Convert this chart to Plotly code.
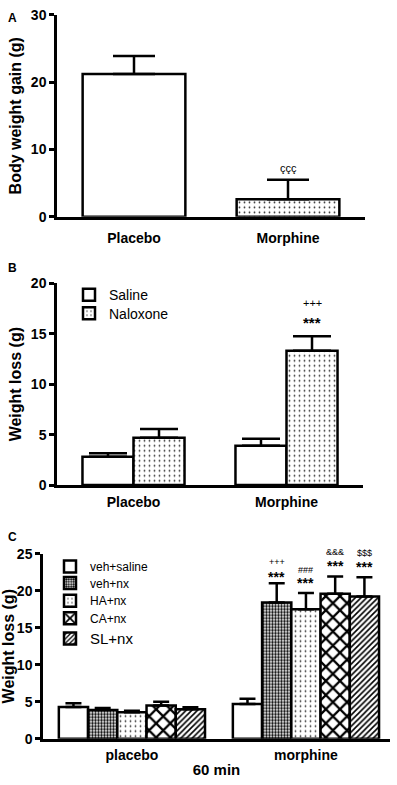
import plotly.graph_objects as go

# ---------------- data ----------------
cats_ab = ["Placebo", "Morphine"]
a_gain = [21.2, 2.6]
a_err = [2.7, 2.9]

b_saline = [2.8, 3.9]
b_saline_err = [0.35, 0.7]
b_nalox = [4.7, 13.3]
b_nalox_err = [0.85, 1.45]

cats_c = ["placebo", "morphine"]
c_groups = ["veh+saline", "veh+nx", "HA+nx", "CA+nx", "SL+nx"]
c_means = {
    "veh+saline": [4.3, 4.7],
    "veh+nx": [3.9, 18.4],
    "HA+nx": [3.6, 17.5],
    "CA+nx": [4.5, 19.6],
    "SL+nx": [4.0, 19.2],
}
c_errs = {
    "veh+saline": [0.5, 0.7],
    "veh+nx": [0.25, 2.6],
    "HA+nx": [0.2, 2.2],
    "CA+nx": [0.5, 2.3],
    "SL+nx": [0.25, 2.6],
}
c_marks_top = ["", "+++", "###", "&&&", "$$$"]

# ---------------- styles ----------------
BOLD = dict(family="Liberation Sans, Arial", color="black", weight="bold")
REG = dict(family="Liberation Sans, Arial", color="black")
LW = 2.5
H = 785.0
W = 397.0


def pat(shape, size, solidity, fg="black"):
    return dict(shape=shape, size=size, solidity=solidity, fgcolor=fg, fgopacity=1,
                bgcolor="white", fillmode="overlay")


pat_none = dict(shape="")
pat_dots = pat(".", 5, 0.1, "#333")
pat_dense = pat(".", 3, 0.5)
pat_cross = pat("x", 10, 0.4)
pat_diag = pat("/", 4, 0.4)
c_patterns = [pat_none, pat_dense, pat_dots, pat_cross, pat_diag]

fig = go.Figure()

# ---------------- Panel A ----------------
fig.add_trace(go.Bar(
    x=cats_ab, y=a_gain, xaxis="x", yaxis="y", showlegend=False,
    width=0.667,
    marker=dict(color="white", line=dict(color="black", width=LW),
                pattern=dict(shape=["", "."], size=5, solidity=0.1, fgcolor="#333", fgopacity=1,
                             bgcolor="white", fillmode="overlay")),
    error_y=dict(type="data", array=a_err, arrayminus=[0, 0], color="black", thickness=LW, width=21),
))

# ---------------- Panel B ----------------
fig.add_trace(go.Bar(
    name="Saline", x=cats_ab, y=b_saline, xaxis="x2", yaxis="y2", legend="legend",
    marker=dict(color="white", line=dict(color="black", width=LW), pattern=pat_none),
    error_y=dict(type="data", array=b_saline_err, arrayminus=[0, 0], color="black", thickness=LW, width=19),
))
fig.add_trace(go.Bar(
    name="Naloxone", x=cats_ab, y=b_nalox, xaxis="x2", yaxis="y2", legend="legend2",
    marker=dict(color="white", line=dict(color="black", width=LW), pattern=pat_dots),
    error_y=dict(type="data", array=b_nalox_err, arrayminus=[0, 0], color="black", thickness=LW, width=19),
))

# ---------------- Panel C ----------------
n = len(c_groups)
group_w = 0.84
bw = group_w / n
for i, g in enumerate(c_groups):
    fig.add_trace(go.Bar(
        name=g, x=cats_c, y=c_means[g], xaxis="x3", yaxis="y3",
        legend=f"legend{i + 3}",
        width=bw, offset=-group_w / 2 + i * bw,
        marker=dict(color="white", line=dict(color="black", width=LW), pattern=c_patterns[i]),
        error_y=dict(type="data", array=c_errs[g], arrayminus=[0, 0], color="black", thickness=LW, width=8),
    ))

# ---------------- annotations ----------------
ann = []
# panel A
ann.append(dict(x=1, y=a_gain[1] + a_err[1], xref="x", yref="y", text="ççç", showarrow=False,
                yanchor="middle", yshift=12, font=dict(REG, size=11)))
# panel B
xb = 1 + 0.667 / 4
yb = b_nalox[1] + b_nalox_err[1]
ann.append(dict(x=xb, y=yb, xref="x2", yref="y2", text="***", showarrow=False,
                yanchor="middle", yshift=14, font=dict(BOLD, size=15)))
ann.append(dict(x=xb, y=yb, xref="x2", yref="y2", text="+++", showarrow=False,
                yanchor="middle", yshift=33, font=dict(REG, size=11)))
# panel C
star_shift = [0, 6, 10, 11, 10]
top_shift = [0, 21, 23, 25, 24]
for i, g in enumerate(c_groups):
    if i == 0:
        continue
    xc = 1 - group_w / 2 + (i + 0.5) * bw
    yc = c_means[g][1] + c_errs[g][1]
    ann.append(dict(x=xc, y=yc, xref="x3", yref="y3", text="***", showarrow=False,
                    yanchor="middle", yshift=star_shift[i], font=dict(BOLD, size=14)))
    ann.append(dict(x=xc, y=yc, xref="x3", yref="y3", text=c_marks_top[i], showarrow=False,
                    yanchor="middle", yshift=top_shift[i], font=dict(REG, size=9)))

# panel letters
for txt, yy in (("A", 1 - 10 / H), ("B", 1 - 265 / H), ("C", 1 - 540 / H)):
    ann.append(dict(x=12 / W, y=yy, xref="paper", yref="paper", text=txt, showarrow=False,
                    xanchor="center", yanchor="middle", font=dict(BOLD, size=12)))

fig.update_layout(annotations=ann)

# ---------------- axes ----------------
def xax(domain, anchor, rng, standoff, title=None):
    d = dict(domain=domain, anchor=anchor, type="category", range=rng,
             showline=True, linecolor="black", linewidth=LW, ticks="", ticklen=0,
             showgrid=False, zeroline=False, fixedrange=True,
             tickfont=dict(BOLD, size=14), ticklabelstandoff=standoff)
    if title:
        d["title"] = dict(text=title, font=dict(BOLD, size=15), standoff=3)
    return d


def yax(domain, anchor, rng, dtick, title, standoff=6):
    return dict(domain=domain, anchor=anchor, range=rng, dtick=dtick,
                showline=True, linecolor="black", linewidth=LW,
                ticks="outside", ticklen=5, tickwidth=LW, tickcolor="black",
                showgrid=False, zeroline=False, fixedrange=True,
                tickfont=dict(BOLD, size=14),
                title=dict(text=title, font=dict(BOLD, size=16), standoff=standoff))


def leg(x, yc, size):
    return dict(x=x / W, y=1 - yc / H, xanchor="left", yanchor="middle",
                font=dict(REG, size=size), bgcolor="rgba(0,0,0,0)", tracegroupgap=0,
                itemclick=False, itemdoubleclick=False)


c_rows = [570, 587, 605, 623, 644]
c_sizes = [12, 12, 12, 12, 15]
legends = {"legend": leg(69, 293, 14), "legend2": leg(69, 312, 14)}
for i in range(n):
    legends[f"legend{i + 3}"] = leg(50, c_rows[i], c_sizes[i])

fig.update_layout(
    width=397, height=785,
    margin=dict(l=0, r=0, t=0, b=0),
    paper_bgcolor="white", plot_bgcolor="white",
    barmode="group", bargap=0.333, bargroupgap=0,
    xaxis=xax([57 / W, 365 / W], "y", [-0.5, 1.5], 7),
    yaxis=yax([1 - 213 / H, 1 - 7 / H], "x", [0, 30], 10, "Body weight gain (g)"),
    xaxis2=xax([57 / W, 363 / W], "y2", [-0.5, 1.5], 2),
    yaxis2=yax([1 - 487 / H, 1 - 281 / H], "x2", [0, 20], 5, "Weight loss (g)"),
    xaxis3=xax([43 / W, 390 / W], "y3", [-0.511, 1.483], 2, "60 min"),
    yaxis3=yax([1 - 746 / H, 1 - 557 / H], "x3", [0, 25], 5, "Weight loss (g)", standoff=4),
    **legends,
)

fig.write_html("out.html", config={"displayModeBar": False},
               post_script="document.body.style.margin='0';document.body.style.overflow='hidden';")
